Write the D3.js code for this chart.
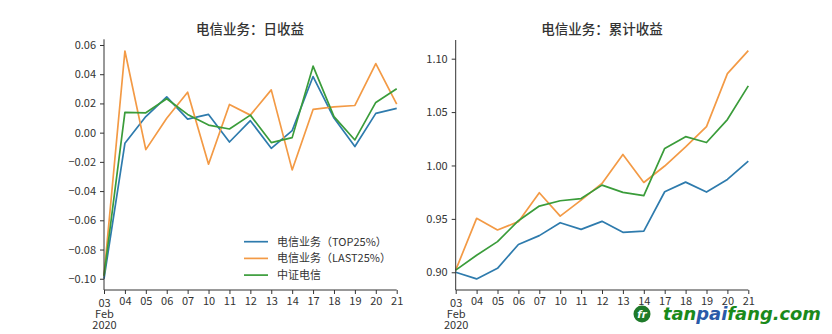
<!DOCTYPE html>
<html>
<head>
<meta charset="utf-8">
<script src="https://cdn.jsdelivr.net/npm/d3@7"></script>
<style>
  html, body { margin: 0; padding: 0; background: #fff; }
  svg { display: block; font-family: "Noto Sans CJK SC", "DejaVu Sans", sans-serif; }
</style>
</head>
<body>
<svg id="chart" width="832" height="334"></svg>
<script>
// Trading days, February 2020
const dates = ["03", "04", "05", "06", "07", "10", "11", "12", "13", "14", "17", "18", "19", "20", "21"];

// Daily returns
const dailyTop25  = [-0.100, -0.0073, 0.0110, 0.0245, 0.0093, 0.0125, -0.0064, 0.0082, -0.0107, 0.0014, 0.0384, 0.0100, -0.0095, 0.0132, 0.0166];
const dailyLast25 = [-0.098, 0.0559, -0.0116, 0.0098, 0.0277, -0.0216, 0.0193, 0.0120, 0.0293, -0.0255, 0.0159, 0.0177, 0.0186, 0.0473, 0.0195];
const dailyIndex  = [-0.098, 0.0139, 0.0136, 0.0232, 0.0125, 0.0052, 0.0025, 0.0120, -0.0068, -0.0034, 0.0455, 0.0110, -0.0050, 0.0207, 0.0300];

// Cumulative returns
const cumTop25  = [0.900, 0.8938, 0.9037, 0.9260, 0.9343, 0.9464, 0.9402, 0.9477, 0.9374, 0.9386, 0.9754, 0.9844, 0.9751, 0.9869, 1.0040];
const cumLast25 = [0.902, 0.9505, 0.9396, 0.9474, 0.9745, 0.9526, 0.9676, 0.9832, 1.0103, 0.9841, 0.9995, 1.0174, 1.0364, 1.0860, 1.1075];
const cumIndex  = [0.902, 0.9160, 0.9287, 0.9483, 0.9620, 0.9670, 0.9690, 0.9816, 0.9748, 0.9717, 1.0160, 1.0270, 1.0215, 1.0430, 1.0745];

const seriesNames = ["电信业务（TOP25%）", "电信业务（LAST25%）", "中证电信"];
const colors = ["#2e7bad", "#f39a45", "#3a9c3a"];

const dailyTicks = [0.06, 0.04, 0.02, 0.00, -0.02, -0.04, -0.06, -0.08, -0.10];
const cumTicks = [1.10, 1.05, 1.00, 0.95, 0.90];

const svg = d3.select("#chart");
const axisColor = "#333";
const textColor = "#333";

function drawPanel(opts) {
  const g = svg.append("g");
  const x = d3.scalePoint().domain(dates).range([opts.left, opts.right]);
  const y = d3.scaleLinear().domain(opts.yDomain).range([opts.bottom, opts.top]);

  // title
  g.append("text")
    .attr("x", opts.titleX).attr("y", 34)
    .attr("text-anchor", "middle")
    .attr("font-size", 13.5).attr("font-weight", 500)
    .attr("fill", textColor)
    .text(opts.title);

  // lines
  const line = d3.line().x((d, i) => x(dates[i])).y(d => y(d));
  opts.series.forEach((s, k) => {
    g.append("path").datum(s)
      .attr("fill", "none")
      .attr("stroke", colors[k])
      .attr("stroke-width", 1.7)
      .attr("stroke-linejoin", "round")
      .attr("d", line);
  });

  // y axis
  const ya = g.append("g")
    .attr("transform", `translate(${opts.left},0)`)
    .call(d3.axisLeft(y).tickValues(opts.ticks).tickSize(4).tickPadding(4)
      .tickFormat(d => d3.format(opts.fmt)(d).replace("-", "\u2212")));
  ya.select(".domain").attr("stroke", axisColor).attr("d", `M0,${opts.bottom}V${opts.top}`);
  ya.selectAll(".tick line").attr("stroke", axisColor);
  ya.selectAll(".tick text").attr("fill", textColor).attr("font-size", 11)
    .attr("font-family", "'Noto Sans CJK SC', sans-serif");

  // x axis
  const xa = g.append("g")
    .attr("transform", `translate(0,${opts.bottom})`)
    .call(d3.axisBottom(x).tickSize(4).tickPadding(3).tickFormat(d => d));
  xa.select(".domain").attr("stroke", axisColor).attr("d", `M${opts.left},0H${opts.right}`);
  xa.selectAll(".tick line").attr("stroke", axisColor);
  xa.selectAll(".tick text").attr("fill", textColor).attr("font-size", 11)
    .attr("font-family", "'Noto Sans CJK SC', sans-serif");
  // first tick carries the month and year
  xa.selectAll(".tick").filter(d => d === dates[0]).select("text")
    .text(null)
    .attr("dy", null).attr("y", 0)
    .selectAll("tspan").data(["03", "Feb", "2020"]).enter().append("tspan")
    .attr("x", 0).attr("y", (d, i) => 17 + i * 11)
    .text(d => d);

  return { x, y, g };
}

// left panel: daily returns
drawPanel({
  left: 104, right: 396.7, top: 39.3, bottom: 290,
  yDomain: [-0.1077, 0.0639],
  ticks: dailyTicks, fmt: ".2f",
  title: "电信业务：日收益", titleX: 250,
  series: [dailyTop25, dailyLast25, dailyIndex]
});

// right panel: cumulative returns
drawPanel({
  left: 455.7, right: 748.3, top: 40, bottom: 290,
  yDomain: [0.8834, 1.1175],
  ticks: cumTicks, fmt: ".2f",
  title: "电信业务：累计收益", titleX: 602,
  series: [cumTop25, cumLast25, cumIndex]
});

// legend on the daily panel
const lg = svg.append("g");
seriesNames.forEach((name, k) => {
  const yy = 241.7 + k * 16.7;
  lg.append("line").attr("x1", 244).attr("x2", 268).attr("y1", yy).attr("y2", yy)
    .attr("stroke", colors[k]).attr("stroke-width", 1.7);
  lg.append("text").attr("x", 277).attr("y", yy).attr("dy", "0.35em")
    .attr("font-size", 11).attr("fill", textColor).text(name);
});

// site mark
const wm = svg.append("g");
wm.append("circle").attr("cx", 642).attr("cy", 314).attr("r", 8.5).attr("fill", "#1f7a2a");
wm.append("text").attr("x", 642).attr("y", 314).attr("dy", "0.36em").attr("text-anchor", "middle")
  .attr("font-size", 10).attr("font-weight", "bold").attr("font-style", "italic").attr("fill", "#fff")
  .attr("font-family", "'DejaVu Sans', sans-serif").text("fr");
const wt = wm.append("text").attr("x", 663).attr("y", 320)
  .attr("font-size", 17).attr("font-weight", "bold").attr("font-style", "italic")
  .attr("font-family", "'DejaVu Sans', sans-serif")
  .attr("textLength", 158).attr("lengthAdjust", "spacingAndGlyphs");
wt.append("tspan").attr("fill", "#1a8a1a").text("tan");
wt.append("tspan").attr("fill", "#2a5aa8").text("pai");
wt.append("tspan").attr("fill", "#1a8a1a").text("fang.com");
</script>
</body>
</html>
